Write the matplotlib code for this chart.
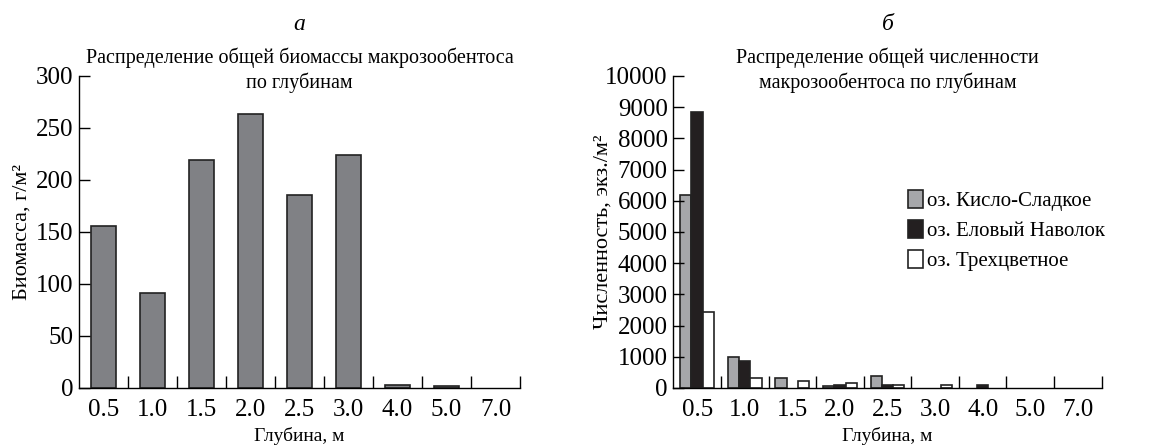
import matplotlib
matplotlib.use("Agg")
import matplotlib.pyplot as plt
import numpy as np

# depth categories
depths = ["0.5", "1.0", "1.5", "2.0", "2.5", "3.0", "4.0", "5.0", "7.0"]

# panel a: total biomass, g/m2
biomass = [156, 91, 219, 263, 186, 224, 2.5, 1.5, 0]

# panel b: total abundance, ind./m2
kislo_sladkoe = [6180, 1000, 330, 50, 370, 0, 0, 0, 0]
elovy_navolok = [8850, 860, 0, 80, 100, 0, 80, 0, 0]
trehcvetnoe = [2420, 320, 210, 160, 95, 100, 0, 0, 0]

plt.rcParams['font.family'] = ['Liberation Serif', 'DejaVu Serif']

fig = plt.figure(figsize=(11.52, 4.47), dpi=100)
ax1 = fig.add_axes([0.0686, 0.132, 0.3828, 0.698])
ax2 = fig.add_axes([0.5845, 0.132, 0.3718, 0.698])

x = np.arange(len(depths))


def edges(values):
    # empty bars are not outlined
    return ['#222222' if v > 0 else 'none' for v in values]


def style_axis(ax):
    ax.set_xlim(-0.5, len(depths) - 0.5)
    for s in ['top', 'right']:
        ax.spines[s].set_visible(False)
    for s in ['left', 'bottom']:
        ax.spines[s].set_linewidth(1.0)
    # ticks at boundaries between groups, labels at centers
    ax.set_xticks(np.arange(0.5, len(depths)), minor=False)
    ax.set_xticklabels([])
    ax.set_xticks(x, minor=True)
    ax.set_xticklabels(depths, minor=True)
    ax.tick_params(axis='x', which='major', direction='in', length=9, width=1)
    ax.tick_params(axis='x', which='minor', length=0, labelsize=18, pad=8)
    ax.tick_params(axis='y', direction='in', length=8, width=1, labelsize=18, pad=4)
    ax.set_xlabel("Глубина, м", fontsize=14, labelpad=4)


# panel a
ax1.bar(x, biomass, width=0.5, color='#808185', edgecolor=edges(biomass), linewidth=1.2)
style_axis(ax1)
ax1.set_ylim(0, 300)
ax1.set_yticks(np.arange(0, 301, 50))
ax1.set_ylabel("Биомасса, г/м²", fontsize=16)
ax1.yaxis.set_label_coords(-0.107, 0.5)
ax1.text(0.5, 0.945, "Распределение общей биомассы макрозообентоса\nпо глубинам",
         transform=ax1.transAxes, ha='center', va='bottom', fontsize=14.5, linespacing=1.3)
ax1.text(0.5, 1.165, "а", transform=ax1.transAxes, ha='center', va='center',
         fontsize=17, style='italic')

# panel b
w = 0.238
ax2.bar(x - w, kislo_sladkoe, width=w, color='#a6a7aa', edgecolor=edges(kislo_sladkoe),
        linewidth=1.2, label="оз. Кисло-Сладкое")
ax2.bar(x, elovy_navolok, width=w, color='#231f20', edgecolor=edges(elovy_navolok),
        linewidth=1.2, label="оз. Еловый Наволок")
ax2.bar(x + w, trehcvetnoe, width=w, color='white', edgecolor=edges(trehcvetnoe),
        linewidth=1.2, label="оз. Трехцветное")
style_axis(ax2)
ax2.set_ylim(0, 10000)
ax2.set_yticks(np.arange(0, 10001, 1000))
ax2.set_ylabel("Численность, экз./м²", fontsize=16)
ax2.yaxis.set_label_coords(-0.141, 0.5)
ax2.text(0.5, 0.945, "Распределение общей численности\nмакрозообентоса по глубинам",
         transform=ax2.transAxes, ha='center', va='bottom', fontsize=14.5, linespacing=1.3)
ax2.text(0.5, 1.165, "б", transform=ax2.transAxes, ha='center', va='center',
         fontsize=17, style='italic')

leg = fig.legend(loc='upper left', bbox_to_anchor=(908 / 1152, 1 - 190 / 447),
                 frameon=False, fontsize=15, handlelength=0.7, handleheight=0.95,
                 handletextpad=0.2, labelspacing=0.42, borderaxespad=0, borderpad=0)
for h in leg.legend_handles:
    h.set_edgecolor('#222222')

fig.savefig("out.png", dpi=100)
